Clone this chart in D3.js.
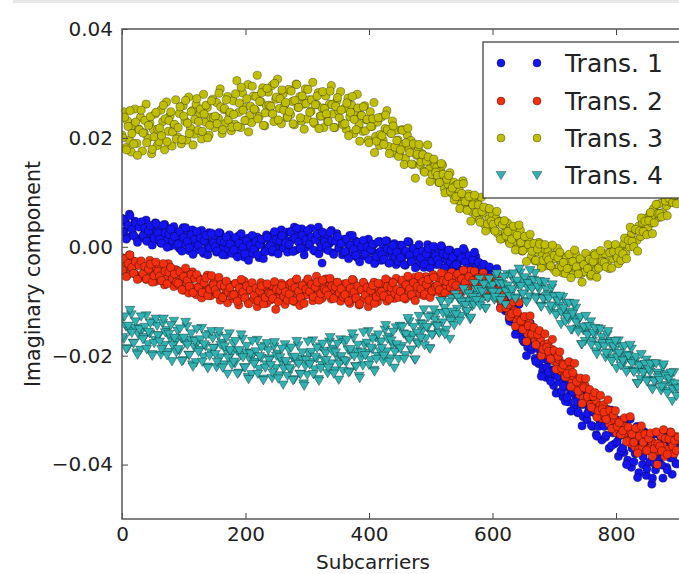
<!DOCTYPE html>
<html><head><meta charset="utf-8">
<script src="https://cdn.jsdelivr.net/npm/d3@7"></script>
<style>body{margin:0;background:#fff;overflow:hidden}svg{display:block;font-family:"DejaVu Sans",sans-serif}</style>
</head><body><svg id="c" width="679" height="574"></svg>
<script>
const seriesNames = ["Trans. 1", "Trans. 2", "Trans. 3", "Trans. 4"];
const seriesColors = ["#1414f2", "#f2300e", "#bfbf00", "#30b2b2"];
const xTicks = [0, 200, 400, 600, 800];
const yTicks = [0.04, 0.02, 0.00, -0.02, -0.04];
// two interleaved sample grids of subcarrier indices
const subcarriersA = d3.range(0, 901, 3);
const subcarriersB = d3.range(1, 902, 3);

const trans1 = [
0.0052,0.0029,0.0044,0.0018,0.0060,0.0035,0.0023,0.0047,0.0015,0.0038,
0.0041,0.0016,0.0033,0.0049,0.0022,0.0010,0.0038,0.0027,0.0044,0.0012,
0.0030,0.0007,0.0024,0.0041,0.0013,0.0034,0.0001,0.0020,0.0037,0.0009,
0.0027,-0.0003,0.0018,0.0035,0.0006,0.0022,-0.0007,0.0013,0.0031,0.0002,
-0.0006,0.0021,0.0009,0.0030,-0.0012,0.0015,0.0003,0.0026,-0.0002,0.0011,
0.0019,-0.0010,0.0008,0.0025,-0.0004,0.0014,-0.0015,0.0005,0.0022,-0.0007,
0.0012,-0.0013,0.0004,0.0020,-0.0006,0.0010,-0.0019,0.0001,0.0016,-0.0009,
-0.0014,0.0009,-0.0003,0.0018,-0.0020,0.0005,0.0013,-0.0008,0.0022,-0.0001,
0.0011,-0.0010,0.0024,0.0003,-0.0005,0.0019,0.0031,-0.0002,0.0014,0.0027,
0.0001,0.0028,0.0013,0.0036,-0.0006,0.0020,0.0008,0.0033,0.0016,-0.0002,
0.0025,0.0004,0.0034,0.0014,-0.0008,0.0021,0.0036,0.0007,-0.0030,0.0017,
-0.0004,0.0019,0.0006,0.0030,-0.0011,0.0012,0.0024,-0.0002,0.0009,-0.0015,
0.0014,-0.0009,0.0005,0.0021,-0.0016,0.0000,0.0011,-0.0020,0.0007,-0.0006,
0.0008,-0.0017,-0.0002,0.0014,-0.0023,-0.0008,0.0004,-0.0027,-0.0012,0.0010,
-0.0025,0.0002,-0.0014,0.0011,-0.0030,-0.0006,-0.0019,0.0006,-0.0033,-0.0010,
0.0003,-0.0022,-0.0008,-0.0034,-0.0015,0.0008,-0.0027,-0.0004,-0.0019,-0.0036,
-0.0002,-0.0028,-0.0011,-0.0038,-0.0020,0.0004,-0.0031,-0.0014,-0.0025,-0.0007,
-0.0033,-0.0009,-0.0024,-0.0003,-0.0040,-0.0016,-0.0029,-0.0006,-0.0037,-0.0021,
-0.0011,-0.0036,-0.0019,-0.0043,-0.0026,-0.0008,-0.0040,-0.0023,-0.0047,-0.0030,
-0.0040,-0.0018,-0.0045,-0.0030,-0.0055,-0.0038,-0.0062,-0.0046,-0.0070,-0.0052,
-0.0050,-0.0078,-0.0065,-0.0092,-0.0080,-0.0105,-0.0088,-0.0118,-0.0100,-0.0132,
-0.0110,-0.0138,-0.0125,-0.0150,-0.0135,-0.0162,-0.0145,-0.0175,-0.0158,-0.0185,
-0.0160,-0.0190,-0.0172,-0.0205,-0.0185,-0.0215,-0.0198,-0.0230,-0.0206,-0.0240,
-0.0210,-0.0242,-0.0226,-0.0255,-0.0236,-0.0268,-0.0248,-0.0230,-0.0276,-0.0257,
-0.0250,-0.0285,-0.0268,-0.0240,-0.0296,-0.0276,-0.0305,-0.0262,-0.0290,-0.0312,
-0.0280,-0.0318,-0.0298,-0.0270,-0.0330,-0.0305,-0.0345,-0.0292,-0.0322,-0.0355,
-0.0310,-0.0350,-0.0328,-0.0370,-0.0300,-0.0342,-0.0362,-0.0318,-0.0385,-0.0338,
-0.0340,-0.0378,-0.0325,-0.0392,-0.0358,-0.0405,-0.0348,-0.0380,-0.0330,-0.0415,
-0.0358,-0.0400,-0.0340,-0.0420,-0.0372,-0.0395,-0.0436,-0.0362,-0.0410,-0.0385,
-0.0395,-0.0352,-0.0425,-0.0370,-0.0405,-0.0345,-0.0388,-0.0418,-0.0360,-0.0398,
-0.0372];
const trans1b = [
0.0027,0.0050,0.0014,0.0039,0.0057,0.0032,0.0020,0.0044,0.0008,0.0036,
0.0046,0.0021,0.0034,0.0010,0.0029,0.0039,0.0003,0.0016,0.0043,0.0025,
0.0014,0.0006,0.0040,0.0025,-0.0001,0.0023,0.0032,0.0010,0.0019,0.0002,
0.0005,0.0028,-0.0008,0.0017,0.0035,0.0010,-0.0002,0.0022,-0.0014,0.0014,
0.0028,0.0003,0.0016,-0.0008,0.0011,0.0021,-0.0015,-0.0002,0.0025,0.0007,
0.0000,-0.0008,0.0026,0.0011,-0.0015,0.0009,0.0018,-0.0004,0.0005,-0.0012,
-0.0006,0.0017,-0.0019,0.0006,0.0024,-0.0001,-0.0013,0.0011,-0.0025,0.0003,
0.0021,-0.0004,0.0009,-0.0015,0.0004,0.0014,-0.0022,-0.0009,0.0018,0.0000,
0.0002,-0.0006,0.0028,0.0013,-0.0013,0.0011,0.0020,-0.0002,0.0007,-0.0010,
0.0004,0.0027,-0.0009,0.0016,0.0034,0.0009,-0.0003,0.0021,-0.0015,0.0013,
0.0030,0.0005,0.0018,-0.0006,0.0013,0.0023,-0.0013,0.0000,0.0027,0.0009,
0.0001,-0.0007,0.0027,0.0012,-0.0014,0.0010,0.0019,-0.0003,0.0006,-0.0011,
-0.0009,0.0014,-0.0022,0.0003,0.0021,-0.0004,-0.0016,0.0008,-0.0028,0.0000,
0.0012,-0.0013,0.0000,-0.0024,-0.0005,0.0005,-0.0031,-0.0018,0.0009,-0.0009,
-0.0015,-0.0023,0.0011,-0.0004,-0.0030,-0.0006,0.0003,-0.0019,-0.0010,-0.0027,
-0.0020,0.0003,-0.0033,-0.0008,0.0010,-0.0015,-0.0027,-0.0003,-0.0039,-0.0011,
0.0004,-0.0021,-0.0008,-0.0032,-0.0013,-0.0003,-0.0039,-0.0026,0.0001,-0.0017,
-0.0024,-0.0032,0.0002,-0.0013,-0.0039,-0.0015,-0.0006,-0.0028,-0.0019,-0.0036,
-0.0033,-0.0010,-0.0046,-0.0021,-0.0003,-0.0028,-0.0040,-0.0016,-0.0052,-0.0024,
-0.0010,-0.0038,-0.0028,-0.0055,-0.0039,-0.0032,-0.0071,-0.0061,-0.0037,-0.0058,
-0.0065,-0.0084,-0.0040,-0.0068,-0.0112,-0.0083,-0.0074,-0.0114,-0.0107,-0.0137,
-0.0131,-0.0102,-0.0161,-0.0127,-0.0106,-0.0149,-0.0171,-0.0140,-0.0200,-0.0162,
-0.0140,-0.0184,-0.0168,-0.0211,-0.0187,-0.0179,-0.0238,-0.0223,-0.0188,-0.0222,
-0.0230,-0.0247,-0.0201,-0.0227,-0.0269,-0.0238,-0.0227,-0.0265,-0.0256,-0.0284,
-0.0276,-0.0245,-0.0302,-0.0266,-0.0243,-0.0284,-0.0304,-0.0271,-0.0329,-0.0289,
-0.0265,-0.0306,-0.0288,-0.0328,-0.0302,-0.0291,-0.0348,-0.0330,-0.0293,-0.0324,
-0.0330,-0.0346,-0.0299,-0.0324,-0.0365,-0.0333,-0.0321,-0.0358,-0.0348,-0.0375,
-0.0369,-0.0326,-0.0400,-0.0350,-0.0317,-0.0370,-0.0395,-0.0349,-0.0424,-0.0369,
-0.0335,-0.0386,-0.0359,-0.0408,-0.0371,-0.0352,-0.0425,-0.0398,-0.0344,-0.0381,
-0.0386,-0.0401,-0.0340,-0.0365,-0.0410,-0.0367,-0.0348,-0.0387,-0.0371,-0.0399,
-0.0366];

const trans2 = [
-0.0020,-0.0045,-0.0030,-0.0052,-0.0015,-0.0038,-0.0026,-0.0050,-0.0034,-0.0058,
-0.0029,-0.0053,-0.0037,-0.0060,-0.0044,-0.0025,-0.0057,-0.0040,-0.0064,-0.0048,
-0.0035,-0.0062,-0.0046,-0.0070,-0.0053,-0.0031,-0.0066,-0.0050,-0.0073,-0.0042,
-0.0044,-0.0071,-0.0058,-0.0080,-0.0050,-0.0067,-0.0085,-0.0060,-0.0046,-0.0075,
-0.0088,-0.0056,-0.0072,-0.0094,-0.0063,-0.0081,-0.0052,-0.0077,-0.0090,-0.0068,
-0.0061,-0.0086,-0.0074,-0.0098,-0.0066,-0.0090,-0.0079,-0.0103,-0.0070,-0.0085,
-0.0095,-0.0068,-0.0086,-0.0107,-0.0075,-0.0092,-0.0063,-0.0083,-0.0101,-0.0078,
-0.0070,-0.0097,-0.0081,-0.0110,-0.0088,-0.0066,-0.0093,-0.0076,-0.0104,-0.0085,
-0.0098,-0.0072,-0.0089,-0.0115,-0.0079,-0.0094,-0.0067,-0.0086,-0.0106,-0.0080,
-0.0069,-0.0093,-0.0077,-0.0101,-0.0061,-0.0086,-0.0108,-0.0074,-0.0090,-0.0066,
-0.0088,-0.0064,-0.0082,-0.0099,-0.0071,-0.0054,-0.0086,-0.0076,-0.0095,-0.0068,
-0.0059,-0.0084,-0.0072,-0.0096,-0.0079,-0.0066,-0.0090,-0.0075,-0.0100,-0.0083,
-0.0068,-0.0093,-0.0078,-0.0104,-0.0085,-0.0062,-0.0096,-0.0081,-0.0107,-0.0074,
-0.0097,-0.0070,-0.0088,-0.0110,-0.0077,-0.0093,-0.0065,-0.0086,-0.0101,-0.0079,
-0.0068,-0.0092,-0.0080,-0.0100,-0.0063,-0.0087,-0.0074,-0.0095,-0.0058,-0.0083,
-0.0088,-0.0065,-0.0079,-0.0096,-0.0060,-0.0082,-0.0070,-0.0092,-0.0056,-0.0077,
-0.0062,-0.0087,-0.0073,-0.0090,-0.0055,-0.0079,-0.0068,-0.0085,-0.0051,-0.0074,
-0.0082,-0.0058,-0.0071,-0.0088,-0.0050,-0.0075,-0.0063,-0.0080,-0.0047,-0.0069,
-0.0054,-0.0077,-0.0062,-0.0083,-0.0046,-0.0070,-0.0058,-0.0074,-0.0044,-0.0067,
-0.0050,-0.0070,-0.0058,-0.0076,-0.0062,-0.0048,-0.0072,-0.0065,-0.0082,-0.0070,
-0.0066,-0.0086,-0.0078,-0.0095,-0.0088,-0.0104,-0.0097,-0.0112,-0.0105,-0.0122,
-0.0108,-0.0128,-0.0118,-0.0136,-0.0126,-0.0145,-0.0134,-0.0152,-0.0142,-0.0160,
-0.0140,-0.0163,-0.0152,-0.0172,-0.0162,-0.0182,-0.0170,-0.0192,-0.0180,-0.0198,
-0.0178,-0.0200,-0.0188,-0.0210,-0.0198,-0.0218,-0.0207,-0.0228,-0.0215,-0.0236,
-0.0215,-0.0240,-0.0226,-0.0250,-0.0238,-0.0260,-0.0246,-0.0272,-0.0255,-0.0278,
-0.0255,-0.0280,-0.0266,-0.0290,-0.0275,-0.0298,-0.0283,-0.0308,-0.0292,-0.0315,
-0.0290,-0.0315,-0.0300,-0.0325,-0.0310,-0.0334,-0.0318,-0.0342,-0.0324,-0.0345,
-0.0318,-0.0345,-0.0330,-0.0356,-0.0338,-0.0362,-0.0344,-0.0368,-0.0350,-0.0372,
-0.0340,-0.0368,-0.0352,-0.0375,-0.0345,-0.0370,-0.0358,-0.0382,-0.0362,-0.0400,
-0.0375,-0.0348,-0.0366,-0.0385,-0.0352,-0.0372,-0.0340,-0.0362,-0.0380,-0.0348,
-0.0355];
const trans2b = [
-0.0043,-0.0022,-0.0055,-0.0031,-0.0015,-0.0038,-0.0049,-0.0027,-0.0060,-0.0034,
-0.0026,-0.0049,-0.0036,-0.0059,-0.0041,-0.0032,-0.0065,-0.0053,-0.0028,-0.0045,
-0.0054,-0.0062,-0.0031,-0.0045,-0.0068,-0.0047,-0.0038,-0.0058,-0.0050,-0.0065,
-0.0067,-0.0046,-0.0079,-0.0055,-0.0039,-0.0062,-0.0073,-0.0051,-0.0084,-0.0058,
-0.0051,-0.0074,-0.0061,-0.0084,-0.0066,-0.0057,-0.0090,-0.0078,-0.0053,-0.0070,
-0.0079,-0.0087,-0.0056,-0.0070,-0.0093,-0.0072,-0.0063,-0.0083,-0.0075,-0.0090,
-0.0088,-0.0067,-0.0100,-0.0076,-0.0060,-0.0083,-0.0094,-0.0072,-0.0105,-0.0079,
-0.0066,-0.0089,-0.0076,-0.0099,-0.0081,-0.0072,-0.0105,-0.0093,-0.0068,-0.0085,
-0.0087,-0.0095,-0.0064,-0.0078,-0.0101,-0.0080,-0.0071,-0.0091,-0.0083,-0.0098,
-0.0087,-0.0066,-0.0099,-0.0075,-0.0059,-0.0082,-0.0093,-0.0071,-0.0104,-0.0078,
-0.0059,-0.0082,-0.0069,-0.0092,-0.0074,-0.0065,-0.0098,-0.0086,-0.0061,-0.0078,
-0.0081,-0.0089,-0.0058,-0.0072,-0.0095,-0.0074,-0.0065,-0.0085,-0.0077,-0.0092,
-0.0088,-0.0067,-0.0100,-0.0076,-0.0060,-0.0083,-0.0094,-0.0072,-0.0105,-0.0079,
-0.0065,-0.0088,-0.0075,-0.0098,-0.0080,-0.0071,-0.0104,-0.0092,-0.0067,-0.0084,
-0.0082,-0.0090,-0.0059,-0.0073,-0.0096,-0.0075,-0.0066,-0.0086,-0.0078,-0.0093,
-0.0082,-0.0061,-0.0094,-0.0070,-0.0054,-0.0077,-0.0088,-0.0066,-0.0099,-0.0073,
-0.0054,-0.0077,-0.0064,-0.0087,-0.0069,-0.0060,-0.0093,-0.0081,-0.0056,-0.0073,
-0.0071,-0.0079,-0.0048,-0.0062,-0.0085,-0.0064,-0.0055,-0.0075,-0.0067,-0.0082,
-0.0071,-0.0050,-0.0083,-0.0059,-0.0043,-0.0066,-0.0077,-0.0055,-0.0088,-0.0062,
-0.0045,-0.0069,-0.0057,-0.0082,-0.0065,-0.0057,-0.0091,-0.0080,-0.0057,-0.0075,
-0.0079,-0.0093,-0.0058,-0.0079,-0.0113,-0.0089,-0.0082,-0.0112,-0.0106,-0.0129,
-0.0123,-0.0101,-0.0146,-0.0120,-0.0102,-0.0136,-0.0152,-0.0128,-0.0174,-0.0145,
-0.0127,-0.0160,-0.0148,-0.0180,-0.0161,-0.0154,-0.0200,-0.0188,-0.0160,-0.0185,
-0.0192,-0.0206,-0.0170,-0.0191,-0.0225,-0.0201,-0.0193,-0.0223,-0.0217,-0.0239,
-0.0233,-0.0211,-0.0257,-0.0231,-0.0214,-0.0248,-0.0265,-0.0241,-0.0288,-0.0259,
-0.0242,-0.0275,-0.0262,-0.0295,-0.0275,-0.0268,-0.0313,-0.0301,-0.0273,-0.0298,
-0.0304,-0.0317,-0.0281,-0.0301,-0.0334,-0.0309,-0.0301,-0.0330,-0.0323,-0.0345,
-0.0338,-0.0314,-0.0358,-0.0331,-0.0312,-0.0344,-0.0359,-0.0333,-0.0379,-0.0348,
-0.0329,-0.0359,-0.0344,-0.0374,-0.0352,-0.0342,-0.0385,-0.0371,-0.0340,-0.0362,
-0.0366,-0.0375,-0.0336,-0.0352,-0.0381,-0.0353,-0.0341,-0.0366,-0.0356,-0.0374,
-0.0350];

const trans3 = [
0.0205,0.0248,0.0182,0.0231,0.0196,0.0174,0.0222,0.0253,0.0190,0.0216,
0.0238,0.0176,0.0209,0.0262,0.0199,0.0227,0.0171,0.0215,0.0244,0.0186,
0.0193,0.0251,0.0230,0.0178,0.0266,0.0212,0.0241,0.0185,0.0224,0.0270,
0.0202,0.0245,0.0189,0.0259,0.0231,0.0196,0.0275,0.0218,0.0250,0.0207,
0.0262,0.0214,0.0243,0.0198,0.0280,0.0229,0.0256,0.0205,0.0238,0.0271,
0.0219,0.0265,0.0236,0.0290,0.0208,0.0252,0.0227,0.0276,0.0244,0.0213,
0.0268,0.0225,0.0305,0.0247,0.0219,0.0283,0.0256,0.0232,0.0298,0.0241,
0.0228,0.0277,0.0251,0.0315,0.0239,0.0266,0.0292,0.0222,0.0259,0.0284,
0.0247,0.0296,0.0230,0.0271,0.0308,0.0254,0.0226,0.0281,0.0262,0.0238,
0.0289,0.0243,0.0267,0.0224,0.0299,0.0256,0.0276,0.0231,0.0262,0.0290,
0.0235,0.0270,0.0249,0.0302,0.0226,0.0261,0.0283,0.0240,0.0255,0.0219,
0.0277,0.0231,0.0262,0.0296,0.0244,0.0219,0.0268,0.0250,0.0285,0.0227,
0.0254,0.0216,0.0273,0.0239,0.0260,0.0208,0.0247,0.0280,0.0225,0.0241,
0.0212,0.0259,0.0233,0.0196,0.0248,0.0221,0.0265,0.0203,0.0229,0.0186,
0.0238,0.0195,0.0217,0.0250,0.0184,0.0209,0.0231,0.0172,0.0214,0.0196,
0.0170,0.0215,0.0188,0.0162,0.0205,0.0179,0.0195,0.0151,0.0186,0.0168,
0.0182,0.0150,0.0171,0.0139,0.0165,0.0187,0.0143,0.0158,0.0130,0.0149,
0.0146,0.0118,0.0139,0.0150,0.0107,0.0128,0.0115,0.0136,0.0098,0.0119,
0.0112,0.0086,0.0104,0.0078,0.0121,0.0090,0.0069,0.0097,0.0083,0.0064,
0.0085,0.0058,0.0079,0.0049,0.0091,0.0062,0.0040,0.0070,0.0051,0.0038,
0.0060,0.0031,0.0052,0.0024,0.0047,0.0015,0.0039,0.0026,0.0044,0.0009,
0.0034,0.0008,0.0026,-0.0004,0.0018,0.0030,-0.0008,0.0012,-0.0002,0.0015,
0.0010,-0.0018,0.0004,-0.0026,-0.0009,0.0008,-0.0030,-0.0014,-0.0004,-0.0035,
-0.0008,-0.0034,-0.0015,-0.0041,-0.0022,-0.0003,-0.0037,-0.0026,-0.0048,-0.0019,
-0.0020,-0.0045,-0.0028,-0.0052,-0.0035,-0.0014,-0.0040,-0.0031,-0.0049,-0.0023,
-0.0046,-0.0021,-0.0039,-0.0054,-0.0030,-0.0012,-0.0043,-0.0026,-0.0036,-0.0017,
-0.0034,-0.0013,-0.0029,-0.0040,-0.0008,-0.0022,0.0002,-0.0018,-0.0031,-0.0004,
-0.0018,0.0006,-0.0010,0.0015,0.0000,0.0024,0.0008,0.0031,0.0012,0.0038,
0.0019,0.0045,0.0028,0.0052,0.0036,0.0061,0.0044,0.0070,0.0053,0.0078,
0.0054,0.0080,0.0063,0.0091,0.0075,0.0099,0.0082,0.0108,0.0090,0.0115,
0.0103];
const trans3b = [
0.0200,0.0238,0.0178,0.0221,0.0250,0.0208,0.0189,0.0229,0.0168,0.0215,
0.0251,0.0209,0.0232,0.0191,0.0223,0.0239,0.0179,0.0202,0.0247,0.0216,
0.0218,0.0204,0.0260,0.0235,0.0193,0.0232,0.0248,0.0211,0.0225,0.0198,
0.0219,0.0257,0.0197,0.0240,0.0269,0.0227,0.0208,0.0248,0.0187,0.0234,
0.0272,0.0230,0.0253,0.0212,0.0244,0.0260,0.0200,0.0223,0.0268,0.0237,
0.0240,0.0226,0.0282,0.0257,0.0215,0.0254,0.0270,0.0233,0.0247,0.0220,
0.0243,0.0281,0.0221,0.0264,0.0293,0.0251,0.0232,0.0272,0.0211,0.0258,
0.0295,0.0253,0.0276,0.0235,0.0267,0.0283,0.0223,0.0246,0.0291,0.0260,
0.0258,0.0244,0.0300,0.0275,0.0233,0.0272,0.0288,0.0251,0.0265,0.0238,
0.0248,0.0286,0.0226,0.0269,0.0298,0.0256,0.0237,0.0277,0.0216,0.0263,
0.0289,0.0247,0.0270,0.0229,0.0261,0.0277,0.0217,0.0240,0.0285,0.0254,
0.0244,0.0230,0.0286,0.0261,0.0219,0.0258,0.0274,0.0237,0.0251,0.0224,
0.0226,0.0264,0.0204,0.0247,0.0276,0.0234,0.0215,0.0255,0.0194,0.0241,
0.0257,0.0213,0.0234,0.0191,0.0221,0.0235,0.0173,0.0194,0.0237,0.0206,
0.0204,0.0188,0.0242,0.0215,0.0171,0.0208,0.0222,0.0183,0.0195,0.0166,
0.0178,0.0214,0.0151,0.0191,0.0218,0.0173,0.0152,0.0189,0.0126,0.0170,
0.0188,0.0156,0.0169,0.0137,0.0157,0.0165,0.0120,0.0133,0.0161,0.0137,
0.0131,0.0118,0.0153,0.0133,0.0099,0.0124,0.0131,0.0102,0.0108,0.0086,
0.0092,0.0115,0.0070,0.0098,0.0116,0.0083,0.0067,0.0092,0.0047,0.0077,
0.0095,0.0063,0.0077,0.0045,0.0065,0.0073,0.0029,0.0042,0.0070,0.0047,
0.0041,0.0029,0.0065,0.0046,0.0014,0.0040,0.0048,0.0020,0.0028,0.0006,
0.0014,0.0038,-0.0006,0.0021,0.0040,0.0008,-0.0007,0.0019,-0.0027,0.0004,
0.0023,-0.0008,0.0006,-0.0025,-0.0004,0.0005,-0.0039,-0.0025,0.0004,-0.0019,
-0.0024,-0.0035,0.0003,-0.0016,-0.0047,-0.0020,-0.0010,-0.0037,-0.0029,-0.0049,
-0.0040,-0.0014,-0.0057,-0.0027,-0.0006,-0.0037,-0.0050,-0.0022,-0.0065,-0.0033,
-0.0012,-0.0040,-0.0023,-0.0051,-0.0027,-0.0015,-0.0056,-0.0039,-0.0007,-0.0027,
-0.0029,-0.0037,0.0004,-0.0011,-0.0039,-0.0009,0.0004,-0.0020,-0.0008,-0.0025,
-0.0013,0.0016,-0.0022,0.0012,0.0036,0.0010,0.0000,0.0032,-0.0008,0.0029,
0.0053,0.0028,0.0047,0.0022,0.0048,0.0063,0.0024,0.0044,0.0078,0.0061,
0.0061,0.0055,0.0097,0.0084,0.0057,0.0089,0.0103,0.0081,0.0094,0.0079,
0.0108];

const trans4 = [
-0.0132,-0.0169,-0.0146,-0.0186,-0.0154,-0.0124,-0.0176,-0.0149,-0.0194,-0.0162,
-0.0189,-0.0151,-0.0166,-0.0126,-0.0179,-0.0159,-0.0197,-0.0137,-0.0171,-0.0145,
-0.0162,-0.0198,-0.0140,-0.0180,-0.0153,-0.0193,-0.0168,-0.0210,-0.0136,-0.0174,
-0.0154,-0.0191,-0.0168,-0.0208,-0.0176,-0.0146,-0.0198,-0.0171,-0.0216,-0.0184,
-0.0212,-0.0174,-0.0189,-0.0149,-0.0202,-0.0182,-0.0220,-0.0160,-0.0194,-0.0168,
-0.0185,-0.0221,-0.0163,-0.0203,-0.0176,-0.0216,-0.0191,-0.0233,-0.0159,-0.0197,
-0.0177,-0.0214,-0.0191,-0.0231,-0.0199,-0.0169,-0.0221,-0.0194,-0.0239,-0.0207,
-0.0234,-0.0196,-0.0211,-0.0171,-0.0224,-0.0204,-0.0242,-0.0182,-0.0216,-0.0190,
-0.0205,-0.0241,-0.0183,-0.0223,-0.0196,-0.0236,-0.0211,-0.0253,-0.0179,-0.0217,
-0.0189,-0.0226,-0.0203,-0.0243,-0.0211,-0.0181,-0.0233,-0.0206,-0.0251,-0.0219,
-0.0235,-0.0197,-0.0212,-0.0172,-0.0225,-0.0205,-0.0243,-0.0183,-0.0217,-0.0191,
-0.0196,-0.0232,-0.0174,-0.0214,-0.0187,-0.0227,-0.0202,-0.0244,-0.0170,-0.0208,
-0.0175,-0.0212,-0.0189,-0.0229,-0.0197,-0.0167,-0.0219,-0.0192,-0.0237,-0.0205,
-0.0218,-0.0180,-0.0195,-0.0155,-0.0208,-0.0188,-0.0226,-0.0166,-0.0200,-0.0174,
-0.0174,-0.0210,-0.0152,-0.0192,-0.0165,-0.0205,-0.0180,-0.0222,-0.0148,-0.0186,
-0.0145,-0.0182,-0.0159,-0.0199,-0.0167,-0.0137,-0.0189,-0.0162,-0.0207,-0.0175,
-0.0178,-0.0140,-0.0155,-0.0115,-0.0168,-0.0148,-0.0186,-0.0126,-0.0160,-0.0134,
-0.0121,-0.0157,-0.0099,-0.0139,-0.0112,-0.0152,-0.0127,-0.0169,-0.0095,-0.0133,
-0.0087,-0.0114,-0.0097,-0.0127,-0.0103,-0.0081,-0.0120,-0.0099,-0.0133,-0.0109,
-0.0106,-0.0078,-0.0089,-0.0059,-0.0099,-0.0084,-0.0112,-0.0067,-0.0093,-0.0073,
-0.0070,-0.0097,-0.0053,-0.0083,-0.0063,-0.0093,-0.0074,-0.0106,-0.0050,-0.0079,
-0.0053,-0.0080,-0.0063,-0.0093,-0.0069,-0.0047,-0.0086,-0.0065,-0.0099,-0.0075,
-0.0091,-0.0060,-0.0073,-0.0048,-0.0092,-0.0078,-0.0108,-0.0065,-0.0094,-0.0078,
-0.0087,-0.0116,-0.0075,-0.0108,-0.0090,-0.0122,-0.0108,-0.0142,-0.0092,-0.0122,
-0.0103,-0.0134,-0.0119,-0.0152,-0.0131,-0.0112,-0.0150,-0.0132,-0.0179,-0.0153,
-0.0173,-0.0146,-0.0160,-0.0137,-0.0173,-0.0161,-0.0192,-0.0150,-0.0180,-0.0166,
-0.0174,-0.0203,-0.0161,-0.0194,-0.0173,-0.0205,-0.0189,-0.0223,-0.0172,-0.0203,
-0.0184,-0.0213,-0.0198,-0.0226,-0.0207,-0.0187,-0.0228,-0.0210,-0.0250,-0.0227,
-0.0243,-0.0216,-0.0230,-0.0207,-0.0244,-0.0230,-0.0259,-0.0214,-0.0245,-0.0231,
-0.0236,-0.0264,-0.0221,-0.0254,-0.0234,-0.0265,-0.0249,-0.0283,-0.0230,-0.0259,
-0.0257];
const trans4b = [
-0.0166,-0.0128,-0.0188,-0.0145,-0.0116,-0.0158,-0.0177,-0.0137,-0.0198,-0.0151,
-0.0128,-0.0170,-0.0147,-0.0188,-0.0156,-0.0140,-0.0200,-0.0177,-0.0132,-0.0163,
-0.0174,-0.0188,-0.0132,-0.0157,-0.0199,-0.0160,-0.0144,-0.0181,-0.0167,-0.0194,
-0.0188,-0.0150,-0.0210,-0.0167,-0.0138,-0.0180,-0.0199,-0.0159,-0.0220,-0.0173,
-0.0151,-0.0193,-0.0170,-0.0211,-0.0179,-0.0163,-0.0223,-0.0200,-0.0155,-0.0186,
-0.0197,-0.0211,-0.0155,-0.0180,-0.0222,-0.0183,-0.0167,-0.0204,-0.0190,-0.0217,
-0.0211,-0.0173,-0.0233,-0.0190,-0.0161,-0.0203,-0.0222,-0.0182,-0.0243,-0.0196,
-0.0173,-0.0215,-0.0192,-0.0233,-0.0201,-0.0185,-0.0245,-0.0222,-0.0177,-0.0208,
-0.0217,-0.0231,-0.0175,-0.0200,-0.0242,-0.0203,-0.0187,-0.0224,-0.0210,-0.0237,
-0.0223,-0.0185,-0.0245,-0.0202,-0.0173,-0.0215,-0.0234,-0.0194,-0.0255,-0.0208,
-0.0174,-0.0216,-0.0193,-0.0234,-0.0202,-0.0186,-0.0246,-0.0223,-0.0178,-0.0209,
-0.0208,-0.0222,-0.0166,-0.0191,-0.0233,-0.0194,-0.0178,-0.0215,-0.0201,-0.0228,
-0.0209,-0.0171,-0.0231,-0.0188,-0.0159,-0.0201,-0.0220,-0.0180,-0.0241,-0.0194,
-0.0157,-0.0199,-0.0176,-0.0217,-0.0185,-0.0169,-0.0229,-0.0206,-0.0161,-0.0192,
-0.0186,-0.0200,-0.0144,-0.0169,-0.0211,-0.0172,-0.0156,-0.0193,-0.0179,-0.0206,
-0.0187,-0.0147,-0.0206,-0.0161,-0.0131,-0.0171,-0.0189,-0.0147,-0.0207,-0.0158,
-0.0127,-0.0167,-0.0142,-0.0181,-0.0147,-0.0129,-0.0187,-0.0162,-0.0115,-0.0144,
-0.0146,-0.0158,-0.0099,-0.0122,-0.0161,-0.0120,-0.0101,-0.0136,-0.0119,-0.0144,
-0.0124,-0.0093,-0.0136,-0.0101,-0.0077,-0.0107,-0.0118,-0.0086,-0.0130,-0.0092,
-0.0067,-0.0098,-0.0078,-0.0108,-0.0082,-0.0069,-0.0113,-0.0094,-0.0059,-0.0081,
-0.0083,-0.0092,-0.0049,-0.0067,-0.0098,-0.0068,-0.0055,-0.0082,-0.0071,-0.0091,
-0.0078,-0.0049,-0.0095,-0.0062,-0.0040,-0.0072,-0.0086,-0.0056,-0.0102,-0.0067,
-0.0043,-0.0077,-0.0061,-0.0095,-0.0073,-0.0063,-0.0110,-0.0095,-0.0064,-0.0090,
-0.0095,-0.0108,-0.0069,-0.0091,-0.0125,-0.0099,-0.0090,-0.0121,-0.0113,-0.0137,
-0.0129,-0.0103,-0.0152,-0.0123,-0.0104,-0.0139,-0.0156,-0.0129,-0.0179,-0.0147,
-0.0127,-0.0162,-0.0146,-0.0180,-0.0158,-0.0149,-0.0197,-0.0182,-0.0151,-0.0177,
-0.0183,-0.0195,-0.0155,-0.0177,-0.0210,-0.0183,-0.0173,-0.0203,-0.0195,-0.0218,
-0.0209,-0.0182,-0.0230,-0.0200,-0.0180,-0.0214,-0.0230,-0.0202,-0.0251,-0.0218,
-0.0197,-0.0231,-0.0215,-0.0247,-0.0225,-0.0215,-0.0262,-0.0247,-0.0214,-0.0240,
-0.0245,-0.0257,-0.0216,-0.0237,-0.0269,-0.0242,-0.0231,-0.0261,-0.0251,-0.0274,
-0.0260];

const seriesValues = [[trans1, trans1b], [trans2, trans2b], [trans3, trans3b], [trans4, trans4b]];
const seriesMarkers = ["circle", "circle", "circle", "triangle"];

const W = 679, H = 574;
const plot = {left: 122, top: 29, bottom: 519, right: 739.5};
const svg = d3.select("#c");

// faint line at the very top of the picture
svg.append("rect").attr("x", 13).attr("y", 0).attr("width", W - 13).attr("height", 3).attr("fill", "#e8e8e8");

const x = d3.scaleLinear().domain([0, 1000]).range([plot.left, plot.right]);
const y = d3.scaleLinear().domain([-0.05, 0.04]).range([plot.bottom, plot.top]);

svg.append("defs").append("clipPath").attr("id", "clip")
  .append("rect").attr("x", plot.left).attr("y", plot.top)
  .attr("width", plot.right - plot.left).attr("height", plot.bottom - plot.top);

const triPath = "M-5,-3.6L5,-3.6L0,4.8Z";
const edge = {stroke: "#000", op: 0.55, w: 0.6};

const gPts = svg.append("g").attr("clip-path", "url(#clip)");
seriesValues.forEach((pair, si) => {
  const data = pair[0].map((v, i) => ({x: subcarriersA[i], y: v}))
    .concat(pair[1].map((v, i) => ({x: subcarriersB[i], y: v})));
  const g = gPts.append("g");
  if (seriesMarkers[si] === "circle") {
    g.selectAll("circle").data(data).enter().append("circle")
      .attr("cx", d => x(d.x)).attr("cy", d => y(d.y)).attr("r", 4.1)
      .attr("fill", seriesColors[si]).attr("stroke", edge.stroke).attr("stroke-opacity", edge.op).attr("stroke-width", edge.w);
  } else {
    g.selectAll("path").data(data).enter().append("path")
      .attr("d", triPath).attr("transform", d => `translate(${x(d.x)},${y(d.y)})`)
      .attr("fill", seriesColors[si]).attr("stroke", edge.stroke).attr("stroke-opacity", edge.op).attr("stroke-width", edge.w);
  }
});

// axes (ticks inside, like the classic matplotlib style)
const fontSize = 20;
const axL = svg.append("g").attr("transform", `translate(${plot.left},0)`)
  .call(d3.axisLeft(y).tickValues(yTicks).tickSize(-6).tickPadding(9).tickFormat(d3.format(".2f")));
const axB = svg.append("g").attr("transform", `translate(0,${plot.bottom})`)
  .call(d3.axisBottom(x).tickValues(xTicks).tickSize(-6).tickPadding(8).tickFormat(d3.format("d")));
const axT = svg.append("g").attr("transform", `translate(0,${plot.top})`)
  .call(d3.axisTop(x).tickValues(xTicks).tickSize(-6).tickFormat(""));
[axL, axB, axT].forEach(a => {
  a.select(".domain").remove();
  a.selectAll(".tick line").attr("stroke", "#444").attr("stroke-width", 1);
  a.selectAll("text").attr("font-size", fontSize).attr("fill", "#222").attr("font-family", "DejaVu Sans");
});

// spines
svg.append("rect").attr("x", plot.left).attr("y", plot.top)
  .attr("width", plot.right - plot.left).attr("height", plot.bottom - plot.top)
  .attr("fill", "none").attr("stroke", "#555").attr("stroke-width", 1.5);

// axis labels
svg.append("text").attr("x", 373).attr("y", 569).attr("text-anchor", "middle")
  .attr("font-size", fontSize).attr("fill", "#222").text("Subcarriers");
svg.append("text").attr("transform", "translate(40,274) rotate(-90)").attr("text-anchor", "middle")
  .attr("font-size", 20.5).attr("fill", "#222").text("Imaginary component");

// legend
const lg = svg.append("g");
lg.append("rect").attr("x", 483).attr("y", 42).attr("width", 230).attr("height", 156)
  .attr("fill", "#fff").attr("stroke", "#333").attr("stroke-width", 1.2);
const rowY = [63, 101, 138, 175];
seriesNames.forEach((name, i) => {
  [501, 537].forEach(mx => {
    if (seriesMarkers[i] === "circle") {
      lg.append("circle").attr("cx", mx).attr("cy", rowY[i]).attr("r", 4)
        .attr("fill", seriesColors[i]).attr("stroke", edge.stroke).attr("stroke-opacity", edge.op).attr("stroke-width", edge.w);
    } else {
      lg.append("path").attr("d", triPath).attr("transform", `translate(${mx},${rowY[i]})`)
        .attr("fill", seriesColors[i]).attr("stroke", edge.stroke).attr("stroke-opacity", edge.op).attr("stroke-width", edge.w);
    }
  });
  lg.append("text").attr("x", 565).attr("y", rowY[i] + 8.5).attr("font-size", 25)
    .attr("fill", "#222").text(name);
});
</script></body></html>
